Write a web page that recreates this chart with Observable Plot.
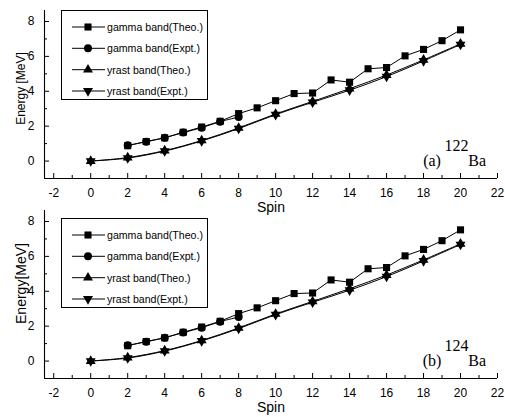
<!DOCTYPE html>
<html><head><meta charset="utf-8">
<script src="https://cdn.jsdelivr.net/npm/d3@7"></script>
<script src="https://cdn.jsdelivr.net/npm/@observablehq/plot@0.6"></script>
<style>
html,body{margin:0;padding:0;background:#fff;overflow:hidden}
#wrap{position:relative;width:505px;height:417px}
.panel{position:absolute;left:0}
.panel svg{overflow:visible}
.legend{position:absolute;left:0;top:0;overflow:visible}
</style>
</head><body><div id="wrap"></div>
<script>
// ---- data ----
const spinGammaTheo = [2,3,4,5,6,7,8,9,10,11,12,13,14,15,16,17,18,19,20];
const energyGammaTheo = [0.88,1.12,1.33,1.65,1.95,2.28,2.72,3.05,3.46,3.87,3.9,4.65,4.52,5.29,5.36,6.03,6.4,6.9,7.52];
const spinGammaExpt = [2,3,4,5,6,7,8];
const energyGammaExpt = [0.9,1.11,1.34,1.63,1.91,2.26,2.52];
const spinYrast = [0,2,4,6,8,10,12,14,16,18,20];
const energyYrastTheo = [0,0.2,0.6,1.18,1.9,2.7,3.42,4.15,4.93,5.8,6.72];
const energyYrastExpt = [0,0.17,0.57,1.15,1.86,2.66,3.37,4.06,4.84,5.74,6.68];
const seriesNames = ["gamma band(Theo.)","gamma band(Expt.)","yrast band(Theo.)","yrast band(Expt.)"];
const xTicksMajor = [-2,0,2,4,6,8,10,12,14,16,18,20,22];
const xTicksMinor = [-1,1,3,5,7,9,11,13,15,17,19,21];
const yTicksMajor = [0,2,4,6,8];
const yTicksMinor = [1,3,5,7];
const xDomain = [-2.5, 22];
const yDomain = [-1, 8.63];
const xLabel = "Spin";
const panelTags = ["(a)","(b)"];
const panelMass = ["122","124"];
const panelElement = ["Ba","Ba"];
const panelYLabels = ["Energy [MeV]","Energy[MeV]"];
// annotation anchor positions (spin, energy) for the nucleus label
const tagPos = [18.46, -0.26];
const massPos = [19.78, 0.6];
const elemPos = [20.9, -0.26];

const toRows = (xs, ys) => xs.map((s, i) => ({spin: s, energy: ys[i]}));
const gammaTheo = toRows(spinGammaTheo, energyGammaTheo);
const gammaExpt = toRows(spinGammaExpt, energyGammaExpt);
const yrastTheo = toRows(spinYrast, energyYrastTheo);
const yrastExpt = toRows(spinYrast, energyYrastExpt);

const sqrt3 = Math.sqrt(3);
const triangleDown = {
  draw(context, size) {
    const y = -Math.sqrt(size / (sqrt3 * 3));
    context.moveTo(0, -y * 2);
    context.lineTo(-sqrt3 * y, y);
    context.lineTo(sqrt3 * y, y);
    context.closePath();
  }
};
const symbols = ["square", "circle", "triangle", triangleDown];
const d3symbols = [d3.symbolSquare, d3.symbolCircle, d3.symbolTriangle, triangleDown];
const radii = [4, 4, 3.7, 3.7];

const SANS = "'Liberation Sans', Arial, sans-serif";
const SERIF = "'Liberation Serif', 'Times New Roman', serif";

function panel(p) {
  const fmt = d => String(d);
  return Plot.plot({
    width: 505, height: 218,
    marginTop: 10, marginLeft: 44, marginRight: 8, marginBottom: 40,
    x: {domain: xDomain, label: null},
    y: {domain: yDomain, label: null},
    style: {background: "transparent", fontFamily: SANS, color: "black", overflow: "visible"},
    marks: [
      Plot.ruleX([xDomain[0]], {stroke: "black", strokeWidth: 1.1}),
      Plot.ruleY([yDomain[0]], {stroke: "black", strokeWidth: 1.1}),
      Plot.axisX({ticks: xTicksMajor, tickSize: 5, dy: -5, tickFormat: () => "", label: null}),
      Plot.axisX({ticks: xTicksMinor, tickSize: 3, dy: -3, tickFormat: () => "", label: null}),
      Plot.axisX({ticks: xTicksMajor, tickSize: 0, tickPadding: 10, tickFormat: fmt, fontSize: 12, label: null}),
      Plot.axisY({ticks: yTicksMajor, tickSize: 5, dx: 5, tickFormat: () => "", label: null}),
      Plot.axisY({ticks: yTicksMinor, tickSize: 3, dx: 3, tickFormat: () => "", label: null}),
      Plot.axisY({ticks: yTicksMajor, tickSize: 0, tickPadding: 10, tickFormat: fmt, fontSize: 12, label: null}),
      Plot.text([xLabel], {frameAnchor: "bottom", textAnchor: "middle", dy: 33, lineAnchor: "bottom", fontSize: 14, text: d => d}),
      Plot.text([panelYLabels[p]], {frameAnchor: "left", textAnchor: "middle", lineAnchor: "middle", dx: -23, dy: p === 0 ? -6 : -11, rotate: -90, fontSize: p === 0 ? 12 : 14, text: d => d}),
      Plot.line(gammaTheo, {x: "spin", y: "energy", stroke: "black", strokeWidth: 1}),
      Plot.line(gammaExpt, {x: "spin", y: "energy", stroke: "black", strokeWidth: 1, curve: "catmull-rom"}),
      Plot.line(yrastTheo, {x: "spin", y: "energy", stroke: "black", strokeWidth: 1, curve: "catmull-rom"}),
      Plot.line(yrastExpt, {x: "spin", y: "energy", stroke: "black", strokeWidth: 1, curve: "catmull-rom"}),
      Plot.dot(gammaTheo, {x: "spin", y: "energy", symbol: symbols[0], r: radii[0], fill: "black", stroke: "none"}),
      Plot.dot(gammaExpt, {x: "spin", y: "energy", symbol: symbols[1], r: radii[1], fill: "black", stroke: "none"}),
      Plot.dot(yrastTheo, {x: "spin", y: "energy", symbol: symbols[2], r: radii[2], fill: "black", stroke: "none"}),
      Plot.dot(yrastExpt, {x: "spin", y: "energy", symbol: symbols[3], r: radii[3], fill: "black", stroke: "none"}),
      Plot.text([panelTags[p]], {x: () => tagPos[0], y: () => tagPos[1], text: d => d, lineAnchor: "bottom", fontFamily: SERIF, fontSize: 16}),
      Plot.text([panelMass[p]], {x: () => massPos[0], y: () => massPos[1], text: d => d, lineAnchor: "bottom", fontFamily: SERIF, fontSize: 16}),
      Plot.text([panelElement[p]], {x: () => elemPos[0], y: () => elemPos[1], text: d => d, lineAnchor: "bottom", fontFamily: SERIF, fontSize: 16})
    ]
  });
}

function legend(offsetY) {
  const svg = d3.create("svg").attr("class", "legend").attr("width", 505).attr("height", 218);
  svg.append("rect").attr("x", 61.5).attr("y", 10.5 + offsetY).attr("width", 146).attr("height", 89)
    .attr("fill", "white").attr("stroke", "black").attr("stroke-width", 1);
  const rowY = [27, 48.3, 69.7, 91];
  seriesNames.forEach((name, i) => {
    const y = rowY[i] + offsetY;
    svg.append("line").attr("x1", 72).attr("x2", 105).attr("y1", y).attr("y2", y)
      .attr("stroke", "black").attr("stroke-width", 1);
    svg.append("path").attr("transform", `translate(88,${y})`)
      .attr("d", d3.symbol(d3symbols[i], Math.PI * radii[i] * radii[i])())
      .attr("fill", "black");
    svg.append("text").attr("x", 107).attr("y", y + 3.8).attr("font-family", SANS)
      .attr("font-size", 10.6).attr("fill", "black").text(name);
  });
  return svg.node();
}

const wrap = document.getElementById("wrap");
[0, 1].forEach(p => {
  const div = document.createElement("div");
  div.className = "panel";
  div.style.top = (p * 200) + "px";
  div.style.width = "505px";
  div.style.height = "218px";
  div.appendChild(panel(p));
  div.appendChild(legend(p === 0 ? 0 : 8));
  wrap.appendChild(div);
});
</script>
</body></html>
